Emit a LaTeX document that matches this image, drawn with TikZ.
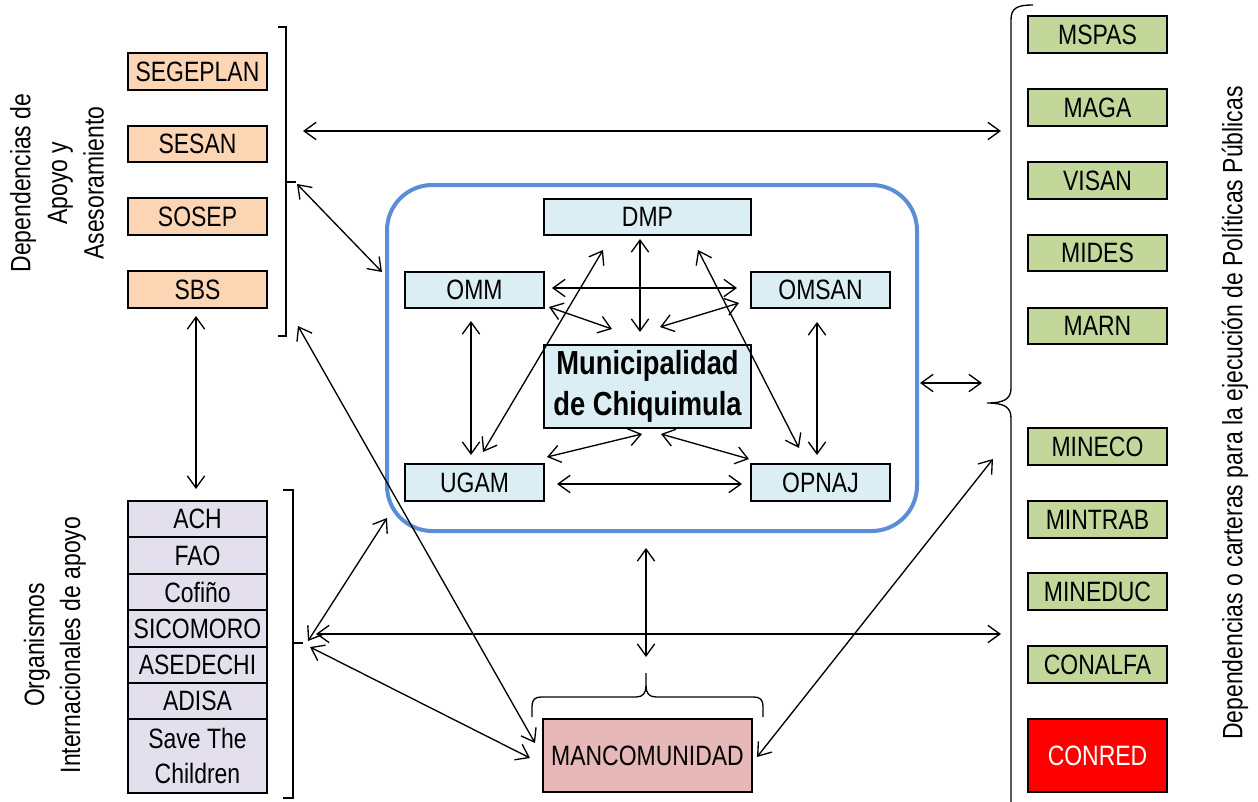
\documentclass[tikz,border=0pt]{standalone}
\usepackage{fontspec}
\setmainfont[FakeStretch=0.82]{Liberation Sans}
\usetikzlibrary{arrows.meta}
\definecolor{peach}{HTML}{FCD5B4}
\definecolor{ice}{HTML}{DAEEF3}
\definecolor{lilac}{HTML}{E4DFEC}
\definecolor{leaf}{HTML}{C4D79B}
\definecolor{manco}{HTML}{E6B9B8}
\definecolor{frameblue}{HTML}{5B8ED6}
\begin{document}
\begin{tikzpicture}[x=0.75pt,y=-0.75pt,
  box/.style={draw, line width=1.4pt, inner sep=0pt, minimum width=104.25pt, minimum height=27.5pt, font=\fontsize{21}{25}\selectfont},
  orangebox/.style={box, fill=peach},
  greenbox/.style={box, fill=leaf},
  icebox/.style={box, fill=ice},
  lilacbox/.style={box, fill=lilac},
  dbl/.style={line width=1pt, {Straight Barb[length=9pt,width=13pt]}-{Straight Barb[length=9pt,width=13pt]}},
  brk/.style={line width=1pt},
  sidelabel/.style={rotate=90, align=center, font=\fontsize{21}{27.4}\selectfont}
]
\useasboundingbox (0,0) rectangle (1258,801);
\fill[white] (0,0) rectangle (1258,801);

% left top group
\node[orangebox] (segeplan) at (197.5,71.5) {SEGEPLAN};
\node[orangebox] (sesan) at (197.5,144) {SESAN};
\node[orangebox] (sosep) at (197.5,216.5) {SOSEP};
\node[orangebox] (sbs) at (197.5,289.5) {SBS};
\node[sidelabel] (lab1) at (57,183) {Dependencias de\\Apoyo y\\Asesoramiento};
\draw[brk] (278,27) -- (286,27) -- (286,336) -- (278,336);
\draw[brk] (286,182) -- (296,182);

% left bottom group
\node[lilacbox] (ach) at (197.5,519) {ACH};
\node[lilacbox] (fao) at (197.5,555.5) {FAO};
\node[lilacbox] (cofino) at (197.5,592) {Cofiño};
\node[lilacbox] (sicomoro) at (197.5,628.5) {SICOMORO};
\node[lilacbox] (asedechi) at (197.5,665) {ASEDECHI};
\node[lilacbox] (adisa) at (197.5,701) {ADISA};
\node[lilacbox, minimum height=55.5pt, align=center, font=\fontsize{21}{26}\selectfont] (save) at (197.5,756) {Save The\\Children};
\node[sidelabel, font=\fontsize{21}{27}\selectfont] (lab2) at (55,645) {Organismos\\Internacionales de apoyo};
\draw[brk] (283,490) -- (293,490) -- (293,798) -- (283,798);
\draw[brk] (293,643) -- (303,643);

% right group
\node[greenbox] (mspas) at (1097.5,34.5) {MSPAS};
\node[greenbox] (maga) at (1097.5,107.5) {MAGA};
\node[greenbox] (visan) at (1097.5,180.5) {VISAN};
\node[greenbox] (mides) at (1097.5,253) {MIDES};
\node[greenbox] (marn) at (1097.5,326) {MARN};
\node[greenbox] (mineco) at (1097.5,446.5) {MINECO};
\node[greenbox] (mintrab) at (1097.5,519.5) {MINTRAB};
\node[greenbox] (mineduc) at (1097.5,591.5) {MINEDUC};
\node[greenbox] (conalfa) at (1097.5,664.5) {CONALFA};
\node[box, fill=red, text=white, minimum height=55pt] (conred) at (1097.5,755.5) {CONRED};
\node[sidelabel] (lab3) at (1235,413) {Dependencias o carteras para la ejecución de Políticas Públicas};
\draw[brk] (1033,5) .. controls (1017,5) and (1011,8) .. (1011,20) -- (1011,388)
  .. controls (1011,399) and (1004,403) .. (987,403)
  .. controls (1004,403) and (1011,407) .. (1011,418) -- (1011,808);

% central frame
\node[draw=frameblue, line width=3pt, rounded corners=34pt, minimum width=397.5pt, minimum height=259.5pt, inner sep=0pt] (frame) at (652,358) {};
\node[icebox, minimum width=155pt] (dmp) at (647.5,217) {DMP};
\node[icebox] (omm) at (474.5,290) {OMM};
\node[icebox] (omsan) at (820.5,290) {OMSAN};
\node[icebox, minimum width=155pt, minimum height=62pt, align=center, font=\fontsize{25}{30.5}\selectfont\bfseries] (muni) at (647.5,386.5) {Municipalidad\\de Chiquimula};
\node[icebox] (ugam) at (474.5,482.5) {UGAM};
\node[icebox] (opnaj) at (820.5,482.5) {OPNAJ};

% mancomunidad
\node[box, fill=manco, minimum width=156.75pt, minimum height=55pt] (manc) at (647.5,755.5) {MANCOMUNIDAD};
\draw[brk] (532,717) -- (532,706) .. controls (532,700) and (535,697) .. (541,697) -- (636,697)
  .. controls (643,697) and (646,693) .. (646,686) -- (646,673);
\draw[brk] (646,686) .. controls (646,693) and (649,697) .. (656,697) -- (754,697)
  .. controls (760,697) and (763,700) .. (763,706) -- (763,717);

% connector end points
\coordinate (c1a) at (303,131); \coordinate (c1b) at (1001,131);
\coordinate (c2a) at (297,184); \coordinate (c2b) at (382,272);
\coordinate (c3a) at (196,316); \coordinate (c3b) at (196,489);
\coordinate (c4a) at (298,326); \coordinate (c4b) at (535,743);
\coordinate (c5a) at (308,641); \coordinate (c5b) at (387,518);
\coordinate (c6a) at (316,634); \coordinate (c6b) at (1001,634);
\coordinate (c7a) at (310,647); \coordinate (c7b) at (530,758);
\coordinate (c8a) at (757,757); \coordinate (c8b) at (993,459);
\coordinate (c9a) at (646,548); \coordinate (c9b) at (646,657);
\coordinate (c10a) at (920,383); \coordinate (c10b) at (982,383);

\draw[dbl] (c1a) -- (c1b);
\draw[dbl] (c2a) -- (c2b);
\draw[dbl] (c3a) -- (c3b);
\draw[dbl] (c4a) -- (c4b);
\draw[dbl] (c5a) -- (c5b);
\draw[dbl] (c6a) -- (c6b);
\draw[dbl] (c7a) -- (c7b);
\draw[dbl] (c8a) -- (c8b);
\draw[dbl] (c9a) -- (c9b);
\draw[dbl] (c10a) -- (c10b);

% inner connectors
\coordinate (i1a) at (552,288); \coordinate (i1b) at (737,288);
\coordinate (i2a) at (549,307); \coordinate (i2b) at (612,329);
\coordinate (i3a) at (739,303); \coordinate (i3b) at (660,327);
\coordinate (i4a) at (640,239); \coordinate (i4b) at (640,332);
\coordinate (i5a) at (603,250); \coordinate (i5b) at (483,452);
\coordinate (i6a) at (698,250); \coordinate (i6b) at (799,448);
\coordinate (i7a) at (471,321); \coordinate (i7b) at (471,455);
\coordinate (i8a) at (817,322); \coordinate (i8b) at (817,455);
\coordinate (i9a) at (642,434); \coordinate (i9b) at (547,457);
\coordinate (i10a) at (661,434); \coordinate (i10b) at (749,459);
\coordinate (i11a) at (557,484); \coordinate (i11b) at (742,484);
\foreach \k in {1,...,11} { \draw[dbl] (i\k a) -- (i\k b); }
\end{tikzpicture}
\end{document}
